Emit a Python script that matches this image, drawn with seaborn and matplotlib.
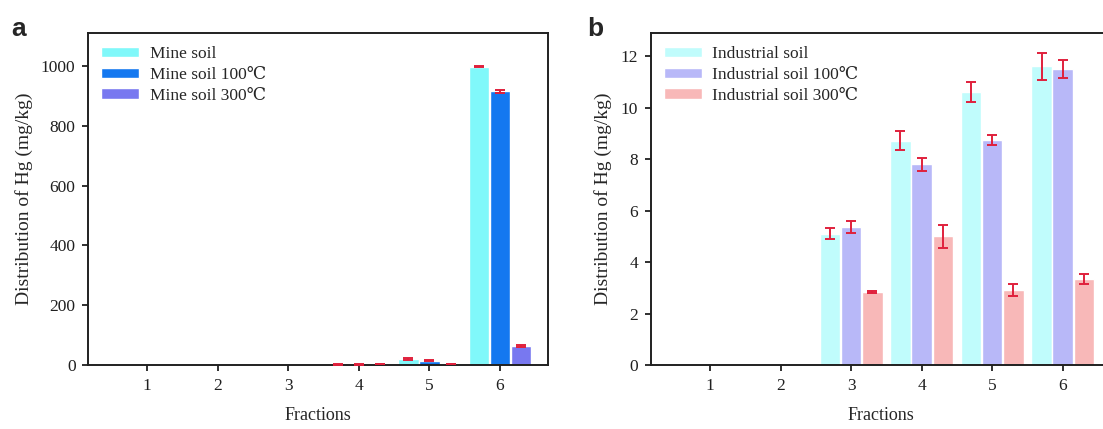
"""
Hg fraction distribution in mine soil and industrial soil (raw, 100 C, 300 C).
"""

import matplotlib
matplotlib.use('Agg')
import matplotlib.pyplot as plt
import numpy as np
import pandas as pd
import seaborn as sns

# Fractions on the x axis
fractions = ['1', '2', '3', '4', '5', '6']

# Panel a: mine soil (mg/kg)
mine_labels = ['Mine soil', 'Mine soil 100\u2103', 'Mine soil 300\u2103']
mine_raw = [0, 0, 0, 2.5, 20, 998]
mine_100 = [0, 0, 0, 2.5, 15, 915]
mine_300 = [0, 0, 0, 3, 4, 63]
mine_raw_err = [0, 0, 0, 1, 2, 3]
mine_100_err = [0, 0, 0, 1, 2, 6]
mine_300_err = [0, 0, 0, 1, 1, 3]

# Panel b: industrial soil (mg/kg)
ind_labels = ['Industrial soil', 'Industrial soil 100\u2103', 'Industrial soil 300\u2103']
ind_raw = [0, 0, 5.1, 8.72, 10.6, 11.6]
ind_100 = [0, 0, 5.35, 7.8, 8.75, 11.52]
ind_300 = [0, 0, 2.83, 5.0, 2.92, 3.35]
ind_raw_err = [0, 0, 0.21, 0.36, 0.39, 0.52]
ind_100_err = [0, 0, 0.23, 0.26, 0.2, 0.35]
ind_300_err = [0, 0, 0.03, 0.45, 0.23, 0.2]

mine_colors = ['#80F8FA', '#1478F0', '#7878F0']
ind_colors = ['#C0FCFC', '#B8B8F8', '#F8B8B8']
err_color = '#E0203C'


def long_frame(labels, series):
    rows = []
    for lab, vals in zip(labels, series):
        for frac, v in zip(fractions, vals):
            rows.append({'Fraction': frac, 'Soil': lab, 'Hg': v})
    return pd.DataFrame(rows)


def draw_panel(ax, labels, series, errors, colors, ylim, yticks):
    df = long_frame(labels, series)
    sns.barplot(data=df, x='Fraction', y='Hg', hue='Soil', order=fractions,
                hue_order=labels, palette=colors, width=0.9, gap=0.03,
                saturation=1, errorbar=None, ax=ax)
    for cont, err in zip(ax.containers, errors):
        for bar, e in zip(cont, err):
            if e <= 0:
                continue
            cx = bar.get_x() + bar.get_width() / 2
            ax.errorbar(cx, bar.get_height(), yerr=e, fmt='none',
                        ecolor=err_color, elinewidth=1.4, capsize=3.6,
                        capthick=1.4, zorder=5)
    ax.set_xlim(-0.84, 5.68)
    ax.set_ylim(*ylim)
    ax.set_yticks(yticks)
    ax.set_xlabel('Fractions', fontsize=13, labelpad=10)
    ax.set_ylabel('Distribution of Hg (mg/kg)', fontsize=14, labelpad=6)
    ax.tick_params(axis='both', direction='out', length=4, width=1.3,
                   labelsize=12.5, pad=5, colors='#202020')
    for sp in ax.spines.values():
        sp.set_linewidth(1.4)
        sp.set_color('#202020')
    ax.legend(loc='upper left', frameon=False, fontsize=12.5,
              handlelength=2.2, handleheight=0.55, handletextpad=0.6,
              labelspacing=0.28, borderaxespad=0.35, title=None)


sns.set_theme(style='ticks')
plt.rcParams['font.family'] = ['Liberation Serif', 'DejaVu Serif']

fig = plt.figure(figsize=(11.03, 4.29), dpi=100)
ax_a = fig.add_axes([0.0798, 0.149, 0.417, 0.774])
ax_b = fig.add_axes([0.590, 0.149, 0.417, 0.774])

draw_panel(ax_a, mine_labels, [mine_raw, mine_100, mine_300],
           [mine_raw_err, mine_100_err, mine_300_err], mine_colors,
           (0, 1110), [0, 200, 400, 600, 800, 1000])
draw_panel(ax_b, ind_labels, [ind_raw, ind_100, ind_300],
           [ind_raw_err, ind_100_err, ind_300_err], ind_colors,
           (0, 12.9), [0, 2, 4, 6, 8, 10, 12])

fig.text(0.010, 0.915, 'a', fontsize=19, fontweight='bold',
         family=['Liberation Sans', 'DejaVu Sans'])
fig.text(0.532, 0.915, 'b', fontsize=19, fontweight='bold',
         family=['Liberation Sans', 'DejaVu Sans'])

fig.savefig('out.png', dpi=100)
